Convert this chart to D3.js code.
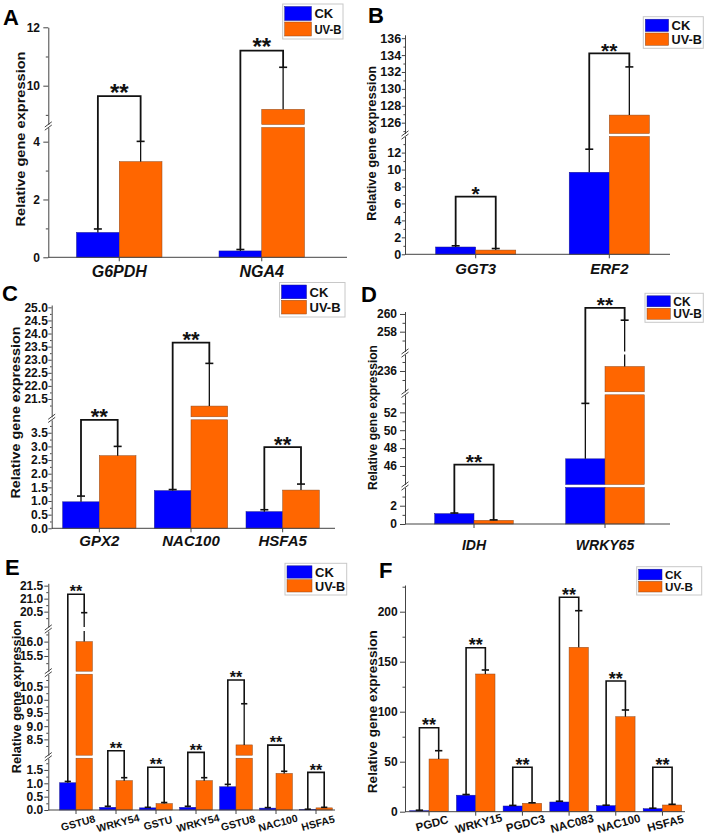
<!DOCTYPE html>
<html><head><meta charset="utf-8">
<script src="https://cdn.jsdelivr.net/npm/d3@7"></script>
<style>html,body{margin:0;padding:0;background:#fff}svg{display:block}text{font-family:"Liberation Sans",Arial,sans-serif;font-weight:bold}</style>
</head><body>
<svg id="c" width="709" height="839"></svg>
<script>
// ---------------- DATA ----------------
const seriesNames = ["CK", "UV-B"];

const aCats = ["G6PDH", "NGA4"];
const aCK = [0.86, 0.22];
const aCKsd = [0.12, 0.05];
const aUV = [3.31, 9.19];
const aUVsd = [0.70, 1.44];
const aSig = ["**", "**"];
const aBracket = [9.64, 11.2];
const aTicks = [[0, 2, 4], [10, 12]];

const bCats = ["GGT3", "ERF2"];
const bCK = [0.86, 9.68];
const bCKsd = [0.14, 2.72];
const bUV = [0.50, 126.9];
const bUVsd = [0.18, 5.7];
const bSig = ["*", "**"];
const bBracket = [6.8, 134.2];
const bTicks = [[0, 2, 4, 6, 8, 10, 12], [126, 128, 130, 132, 134, 136]];

const cCats = ["GPX2", "NAC100", "HSFA5"];
const cCK = [0.97, 1.38, 0.61];
const cCKsd = [0.21, 0.04, 0.07];
const cUV = [2.66, 21.23, 1.40];
const cUVsd = [0.34, 1.63, 0.22];
const cSig = ["**", "**", "**"];
const cBracket = [3.97, 23.65, 2.97];
const cTicks = [[0, 0.5, 1, 1.5, 2, 2.5, 3, 3.5], [21.5, 22, 22.5, 23, 23.5, 24, 24.5, 25]];

const dCats = ["IDH", "WRKY65"];
const dCK = [1.13, 46.8];
const dCKsd = [0.07, 6.2];
const dUV = [0.40, 236.5];
const dUVsd = [0.05, 22.8];
const dSig = ["**", "**"];
const dBracket = [6.5, 260.7];
const dTicks = [[0, 2], [46, 48, 50, 52], [236], [258, 260]];

const eCats = ["GSTU8", "WRKY54", "GSTU", "WRKY54", "GSTU8", "NAC100", "HSFA5"];
const eCK = [1.02, 0.10, 0.08, 0.10, 0.87, 0.07, 0.02];
const eCKsd = [0.05, 0.04, 0.02, 0.04, 0.09, 0.02, 0.01];
const eUV = [16.0, 1.10, 0.24, 1.10, 8.29, 1.37, 0.08];
const eUVsd = [4.46, 0.11, 0.04, 0.11, 1.56, 0.08, 0.02];
const eSig = ["**", "**", "**", "**", "**", "**", "**"];
const eBracket = [21.17, 2.22, 1.6, 2.16, 10.75, 2.43, 1.41];
const eTicks = [[0, 0.5, 1, 1.5], [8.5, 9, 9.5, 10, 10.5], [15.5, 16], [20.5, 21, 21.5]];

const fCats = ["PGDC", "WRKY15", "PGDC3", "NAC083", "NAC100", "HSFA5"];
const fCK = [1, 16.5, 5.7, 9.7, 6, 3];
const fCKsd = [0.5, 0.7, 0.6, 0.8, 0.5, 0.5];
const fUV = [52.7, 137.7, 8.4, 164.4, 95, 6.7];
const fUVsd = [8.3, 4.0, 0.5, 36.6, 6.7, 0.7];
const fSig = ["**", "**", "**", "**", "**", "**"];
const fBracket = [84, 164, 44.4, 214.4, 130.7, 44.4];
const fTicks = [[0, 50, 100, 150, 200]];

// ---------------- STYLE / LAYOUT ----------------
const BLUE = "#0000ff", ORANGE = "#ff6600";
const fInt = d3.format("d"), f1 = d3.format(".1f");

const panels = [
  { letter: "A", cats: aCats, ck: aCK, ckSd: aCKsd, uv: aUV, uvSd: aUVsd, sig: aSig, br: aBracket, ticks: aTicks, steps: [2, 2], fmt: fInt,
    segs: [{ d: [0, 4.49], r: [257.3, 127.5] }, { d: [8.67, 12], r: [124.5, 27.3] }],
    axisX: 48.3, axisEnd: 347, band: [48, 333], barFrac: 0.3, tick: [5, 3.3],
    letterPos: [3, 25], title: [21, 139, 175], xlab: { y: 276.7, fs: 16, rot: 0 },
    legend: { x: 282.7, y: 4, w: 60.3, h: 35, sw: 26.7 }, starFs: 24, tickFs: 12, lw: 1.8 },
  { letter: "B", cats: bCats, ck: bCK, ckSd: bCKsd, uv: bUV, uvSd: bUVsd, sig: bSig, br: bBracket, ticks: bTicks, steps: [2, 2], fmt: fInt,
    segs: [{ d: [0, 13.9], r: [254.3, 136.5] }, { d: [124.72, 136.4], r: [133.5, 34.8] }],
    axisX: 405, axisEnd: 670, band: [408.9, 676.1], barFrac: 0.3, tick: [3.2, 0.6],
    letterPos: [368, 23.3], title: [371.7, 143.3, 155], xlab: { y: 274, fs: 15, rot: 0 },
    legend: { x: 643.3, y: 16.7, w: 60, h: 31.6, sw: 23.3 }, starFs: 21, tickFs: 12.5, lw: 1.8 },
  { letter: "C", cats: cCats, ck: cCK, ckSd: cCKsd, uv: cUV, uvSd: cUVsd, sig: cSig, br: cBracket, ticks: cTicks, steps: [0.5, 0.5], fmt: f1,
    segs: [{ d: [0, 3.974], r: [528.3, 419.8] }, { d: [20.82, 25.09], r: [416.8, 305] }],
    axisX: 51.7, axisEnd: 335, band: [53.5, 328.5], barFrac: 0.4, tick: [3.4, 0.5],
    letterPos: [2, 300.7], title: [15.2, 412.5, 172], xlab: { y: 545.7, fs: 15, rot: 0 },
    legend: { x: 279.5, y: 282.5, w: 65.5, h: 34.5, sw: 25 }, starFs: 22, tickFs: 12, lw: 1.8 },
  { letter: "D", cats: dCats, ck: dCK, ckSd: dCKsd, uv: dUV, uvSd: dUVsd, sig: dSig, br: dBracket, ticks: dTicks, steps: [2, 2, 2, 2], fmt: fInt,
    segs: [{ d: [0, 3.99], r: [524, 487.5] }, { d: [43.93, 53.96], r: [484.5, 394.8] },
           { d: [233.69, 237.83], r: [391.8, 354.5] }, { d: [255.76, 260.28], r: [351.5, 311.5] }],
    axisX: 405, axisEnd: 670, band: [408.5, 670.5], barFrac: 0.3, tick: [5, 3],
    letterPos: [361, 301.7], title: [372.3, 417.5, 145], xlab: { y: 550, fs: 14, rot: 0 },
    legend: { x: 645, y: 293.3, w: 58.3, h: 29, sw: 23.3 }, starFs: 21, tickFs: 12, lw: 1.8 },
  { letter: "E", cats: eCats, ck: eCK, ckSd: eCKsd, uv: eUV, uvSd: eUVsd, sig: eSig, br: eBracket, ticks: eTicks, steps: [0.5, 0.5, 0.5, 0.5], fmt: f1,
    segs: [{ d: [0, 1.94], r: [810, 758.2] }, { d: [7.90, 10.97], r: [755.2, 674.2] },
           { d: [14.97, 16.37], r: [671.2, 631] }, { d: [19.91, 21.59], r: [627, 583.3] }],
    axisX: 48.3, axisEnd: 335, band: [56, 336], barFrac: 0.41, tick: [4, 1],
    letterPos: [5, 575], title: [16.5, 696.7, 153], xlab: { y: 823, fs: 10.5, rot: -15, dx: 2 },
    legend: { x: 285, y: 563.3, w: 61.7, h: 31.7, sw: 25 }, starFs: 16, tickFs: 12, lw: 1.6 },
  { letter: "F", cats: fCats, ck: fCK, ckSd: fCKsd, uv: fUV, uvSd: fUVsd, sig: fSig, br: fBracket, ticks: fTicks, steps: [50], fmt: fInt,
    segs: [{ d: [0, 226.7], r: [811.7, 585] }],
    axisX: 405, axisEnd: 685, band: [405.7, 685.8], barFrac: 0.413, tick: [5, 2.3],
    letterPos: [379, 578.3], title: [372.5, 711.7, 163], xlab: { y: 823.3, fs: 11.5, rot: -15, dx: 3 },
    legend: { x: 636.7, y: 566.7, w: 65, h: 28.3, sw: 23.3 }, starFs: 18, tickFs: 12, lw: 1.6 }
];

const svg = d3.select("#c");

function segScale(segs) {
  const scales = segs.map(s => d3.scaleLinear().domain(s.d).range(s.r));
  const f = v => {
    let best = 0, bd = Infinity;
    segs.forEach((s, i) => {
      const dist = v < s.d[0] ? s.d[0] - v : (v > s.d[1] ? v - s.d[1] : 0);
      if (dist < bd) { bd = dist; best = i; }
    });
    return scales[best](v);
  };
  f.scales = scales;
  return f;
}

function drawPanel(p) {
  const g = svg.append("g");
  const y = segScale(p.segs);
  const n = p.cats.length;
  const x = d3.scaleBand().domain(d3.range(n)).range(p.band);
  const bw = x.bandwidth() * p.barFrac;
  const ctr = i => x(i) + x.bandwidth() / 2;
  const series = [
    { vals: p.ck, sd: p.ckSd, color: BLUE, stroke: "#1a1a8a", cx: i => ctr(i) - bw / 2 },
    { vals: p.uv, sd: p.uvSd, color: ORANGE, stroke: "#8a4a20", cx: i => ctr(i) + bw / 2 }
  ];

  // bars (split across axis segments)
  series.forEach(s => {
    const pieces = [];
    s.vals.forEach((v, i) => {
      p.segs.forEach((seg, k) => {
        const lo = seg.d[0], hi = Math.min(v, seg.d[1]);
        if (hi > lo) pieces.push({ i, k, lo, hi });
      });
    });
    g.selectAll(null).data(pieces).join("rect")
      .attr("x", d => s.cx(d.i) - bw / 2).attr("width", bw)
      .attr("y", d => y.scales[d.k](d.hi))
      .attr("height", d => y.scales[d.k](d.lo) - y.scales[d.k](d.hi))
      .attr("fill", s.color).attr("stroke", s.stroke).attr("stroke-width", 0.5);
  });

  // y axis per segment
  p.segs.forEach((seg, k) => {
    const sc = y.scales[k];
    const maj = p.ticks[k];
    const step = p.steps[k];
    const minors = [];
    for (let v = maj[0] - 20 * step + step / 2; v <= seg.d[1] + 1e-9; v += step) {
      const vv = Math.round(v * 1000) / 1000;
      if (vv >= seg.d[0] - 1e-9 && vv <= seg.d[1] + 1e-9) minors.push(vv);
    }
    const gMaj = g.append("g").attr("transform", `translate(${p.axisX},0)`)
      .call(d3.axisLeft(sc).tickValues(maj).tickFormat(p.fmt).tickSize(p.tick[0]).tickPadding(p.tick[1]).tickSizeOuter(0));
    gMaj.selectAll("text").attr("font-size", p.tickFs).attr("fill", "#111");
    gMaj.selectAll("line").attr("stroke", "#444");
    gMaj.select(".domain").attr("stroke", "#444");
    const gMin = g.append("g").attr("transform", `translate(${p.axisX},0)`)
      .call(d3.axisLeft(sc).tickValues(minors).tickFormat("").tickSize(p.tick[0] * 0.5).tickSizeOuter(0));
    gMin.selectAll("line").attr("stroke", "#444");
    gMin.select(".domain").remove();
  });

  // break marks
  for (let k = 0; k < p.segs.length - 1; k++) {
    const ym = (p.segs[k].r[1] + p.segs[k + 1].r[0]) / 2;
    [-1.6, 1.6].forEach(o => {
      g.append("line").attr("x1", p.axisX - 3.5).attr("x2", p.axisX + 3.5)
        .attr("y1", ym + o + 2.6).attr("y2", ym + o - 2.6)
        .attr("stroke", "#444").attr("stroke-width", 1);
    });
  }

  // x axis
  const y0 = y(0);
  const gx = g.append("g").attr("transform", `translate(0,${y0})`)
    .call(d3.axisBottom(x).tickFormat(i => p.cats[i]).tickSize(4).tickSizeOuter(0));
  gx.select(".domain").remove();
  gx.selectAll("line").attr("stroke", "#444");
  g.append("line").attr("x1", p.axisX).attr("x2", p.axisEnd).attr("y1", y0).attr("y2", y0)
    .attr("stroke", "#444").attr("stroke-width", 1);
  const lbl = gx.selectAll("text").attr("font-size", p.xlab.fs).attr("fill", "#111");
  if (p.xlab.rot === 0) {
    lbl.attr("font-style", "italic").attr("y", p.xlab.y - y0).attr("dy", 0);
  } else {
    lbl.attr("y", 0).attr("dy", "0.35em").attr("text-anchor", "middle")
      .attr("transform", `translate(${p.xlab.dx},${p.xlab.y - y0}) rotate(${p.xlab.rot})`);
  }

  // error bars (upper half, broken at axis breaks)
  series.forEach(s => {
    const pieces = [];
    s.vals.forEach((v, i) => {
      const top = v + s.sd[i];
      p.segs.forEach((seg, k) => {
        const lo = Math.max(v, seg.d[0]), hi = Math.min(top, seg.d[1]);
        if (hi > lo) pieces.push({ i, k, lo, hi });
      });
    });
    g.selectAll(null).data(pieces).join("line")
      .attr("x1", d => s.cx(d.i)).attr("x2", d => s.cx(d.i))
      .attr("y1", d => y.scales[d.k](d.lo)).attr("y2", d => y.scales[d.k](d.hi))
      .attr("stroke", "#111").attr("stroke-width", 1.3);
    const cap = Math.min(8, bw * 0.38);
    g.selectAll(null).data(s.vals).join("line")
      .attr("x1", (v, i) => s.cx(i) - cap / 2).attr("x2", (v, i) => s.cx(i) + cap / 2)
      .attr("y1", (v, i) => y(v + s.sd[i])).attr("y2", (v, i) => y(v + s.sd[i]))
      .attr("stroke", "#111").attr("stroke-width", 1.6);
  });

  // significance brackets
  g.selectAll(null).data(p.br).join("path")
    .attr("d", (b, i) => {
      const x1 = series[0].cx(i), x2 = series[1].cx(i);
      return `M${x1},${y(p.ck[i] + p.ckSd[i])}V${y(b)}H${x2}V${y(p.uv[i] + p.uvSd[i])}`;
    })
    .attr("fill", "none").attr("stroke", "#111").attr("stroke-width", p.lw);
  g.selectAll(null).data(p.br).join("text")
    .attr("x", (b, i) => ctr(i)).attr("y", b => y(b) + 0.2 * p.starFs)
    .attr("text-anchor", "middle").attr("font-size", p.starFs).attr("fill", "#111")
    .text((b, i) => p.sig[i]);

  // panel letter
  g.append("text").attr("x", p.letterPos[0]).attr("y", p.letterPos[1])
    .attr("font-size", 22).attr("fill", "#000").text(p.letter);

  // y title
  g.append("text").attr("transform", `translate(${p.title[0]},${p.title[1]}) rotate(-90)`)
    .attr("text-anchor", "middle").attr("dy", "0.35em").attr("font-size", 12.5)
    .attr("textLength", p.title[2]).attr("lengthAdjust", "spacingAndGlyphs")
    .attr("fill", "#111").text("Relative gene expression");

  // legend
  const L = p.legend;
  const lg = g.append("g");
  lg.append("rect").attr("x", L.x).attr("y", L.y).attr("width", L.w).attr("height", L.h)
    .attr("fill", "#fff").attr("stroke", "#c8c8c8").attr("stroke-width", 1);
  const rh = (L.h - 4) / 2;
  const lfs = Math.min(13, rh - 0.5);
  lg.selectAll(null).data(seriesNames).join("rect")
    .attr("x", L.x + 2).attr("width", L.sw)
    .attr("y", (d, i) => L.y + 2 + i * rh + 0.5).attr("height", rh - 1.5)
    .attr("fill", (d, i) => i === 0 ? BLUE : ORANGE)
    .attr("stroke", (d, i) => i === 0 ? "#1a1a8a" : "#8a4a20").attr("stroke-width", 0.5);
  const tx = L.x + 2 + L.sw + 3;
  const avail = L.x + L.w - tx - 1.5;
  lg.selectAll(null).data(seriesNames).join("text")
    .attr("x", tx)
    .attr("y", (d, i) => L.y + 2 + i * rh + rh / 2)
    .attr("dy", "0.36em").attr("font-size", lfs).attr("fill", "#111").text(d => d)
    .each(function () {
      const w = this.getComputedTextLength();
      if (w > avail) d3.select(this).attr("textLength", avail).attr("lengthAdjust", "spacingAndGlyphs");
    });
}

panels.forEach(drawPanel);
</script>
</body></html>
